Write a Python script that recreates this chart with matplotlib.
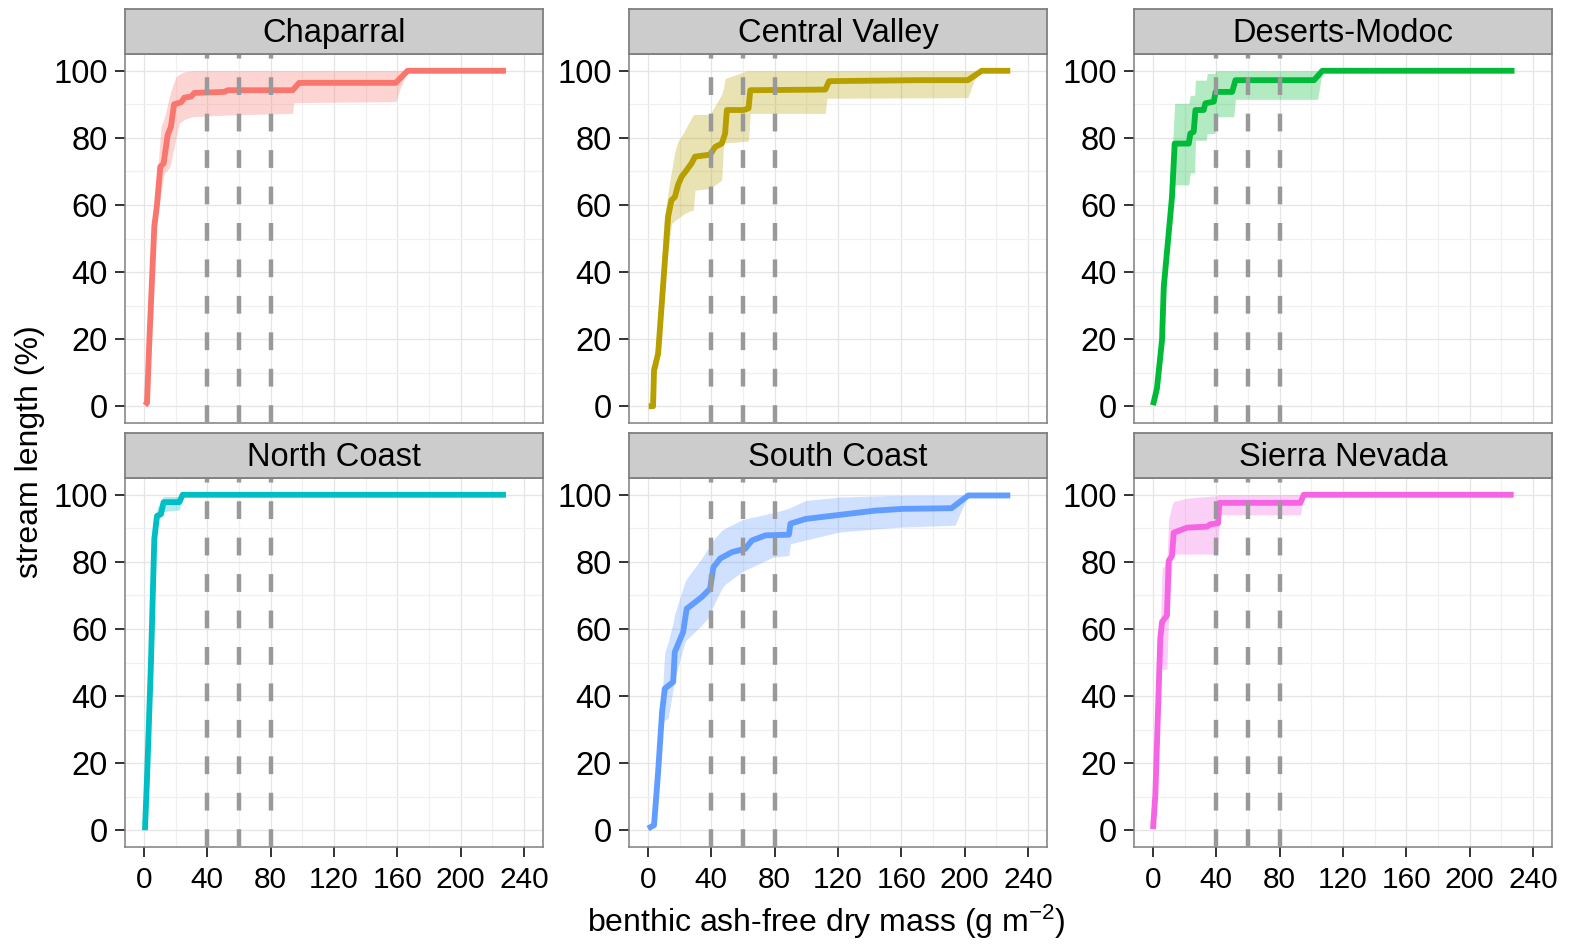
import numpy as np
import matplotlib
matplotlib.use("Agg")
import matplotlib.pyplot as plt

plt.rcParams['font.family'] = ['Liberation Sans', 'DejaVu Sans']
plt.rcParams['mathtext.default'] = 'regular'

# ---- data (x: g m-2, y: % of stream length) ----
regions = ["Chaparral", "Central Valley", "Deserts-Modoc",
           "North Coast", "South Coast", "Sierra Nevada"]
colors = ["#F8766D", "#B79F00", "#00BA38", "#00BFC4", "#619CFF", "#F564E3"]
thresholds = [40, 60, 80]

chap_x = [0.6, 1.9, 3.4, 6.5, 8.2, 10.3, 12.4, 15, 17, 19, 23.4, 25.5, 29.7, 31.8,
          50.7, 52.8, 93.9, 98, 159, 166.5, 228.6]
chap_y = [0.3, 1, 19.7, 53.5, 60, 71.4, 72.4, 81, 83.3, 90, 90.6, 92, 92.3, 93.4,
          93.7, 94.2, 94.2, 96.4, 96.4, 100, 100]
chap_rx = [0.6, 5, 8, 10.7, 12.8, 16, 17, 20.2, 22.3, 25.5, 30.7, 52, 93.9, 94.5,
           159, 162, 166.5, 228.6]
chap_hi = [0.3, 48, 66, 83.3, 86, 92.2, 94, 98.2, 99, 99.7, 100, 100, 100, 100,
           100, 100, 100, 100]
chap_lo = [0.3, 36, 55, 64, 69.4, 71, 72.4, 80, 84.3, 85.5, 86.3, 86.8, 87.3, 90.5,
           90.8, 95, 100, 100]

cv_x = [0.4, 3.2, 3.8, 6.4, 12.7, 14.8, 17, 19, 21.2, 24.4, 27.5, 29.7, 39.2, 42.4,
        46.6, 48.7, 49.8, 60.4, 63.5, 64.6, 112, 114.4, 169.5, 202, 210.8, 228.8]
cv_y = [0, 0, 10.7, 15.7, 56.5, 61.4, 62.4, 66, 68.4, 70.4, 72.4, 74.4, 75, 77.3,
        78.3, 81.3, 88.3, 88.3, 88.8, 94.2, 94.4, 96.9, 97.2, 97.2, 100, 100]
cv_rx = [0.4, 3.8, 6.4, 10, 12.7, 14.8, 17, 19, 23, 27.5, 28.6, 29.7, 39.2, 46.6,
         47.7, 48.7, 62.5, 63.5, 64.6, 112, 113, 202, 206, 210.8, 228.8]
cv_hi = [0, 12, 20, 55, 64, 70, 76, 79, 82, 86, 86.8, 87, 87, 93, 95, 97.7, 100,
         100, 100, 100, 100, 100, 100, 100, 100]
cv_lo = [0, 9, 12, 40, 46, 54.4, 55.4, 56, 57.4, 58.4, 58.4, 64.4, 64.9, 67.4,
         78.3, 78.5, 79, 79.3, 87.3, 87.3, 91.8, 92, 97.2, 100, 100]

dm_x = [0, 2.5, 5.7, 6.8, 9.9, 12, 13.7, 22.6, 23.6, 25.7, 26.8, 32, 33.1, 38.4,
        39.5, 50, 52.1, 101.7, 107, 228.3]
dm_y = [0.3, 5.3, 19.7, 35.6, 51.5, 62.4, 78.3, 78.3, 81.3, 81.8, 88.3, 88.3, 90.3,
        90.8, 93.7, 93.7, 97.2, 97.2, 100, 100]
dm_rx = [0, 5.7, 9.9, 11, 13.7, 22.6, 23.6, 26.3, 26.8, 33.7, 34.2, 39.2, 39.5, 51,
         52.1, 104, 107, 228.3]
dm_hi = [0.3, 21, 55, 66, 90.3, 90.3, 92.7, 92.7, 97.2, 97.2, 99.2, 99.2, 100, 100,
         100, 100, 100, 100]
dm_lo = [0.3, 18, 47, 54, 66, 66, 69.6, 69.6, 79.3, 79.3, 81.3, 81.3, 86.3, 86.3,
         91.5, 91.5, 100, 100]

nc_x = [0.6, 1.9, 4.4, 6.5, 8.2, 10.7, 12.4, 22.3, 24.4, 228.6]
nc_y = [0, 15.4, 50, 86.7, 93.7, 94.2, 97.8, 97.8, 100, 100]
nc_rx = [0.6, 6.5, 8.2, 12.4, 22.3, 24.4, 228.6]
nc_hi = [0, 88.5, 96, 99.5, 99.5, 100, 100]
nc_lo = [0, 85, 92, 95, 95.5, 100, 100]

sc_x = [0, 3.8, 6.4, 8.9, 10.6, 15.9, 16.9, 22.2, 24.4, 33.9, 39.2, 41.3, 45.6, 53,
        61.4, 65.7, 74.2, 89, 90, 99.6, 120.8, 144, 161, 191.7, 202.3, 228.8]
sc_y = [0.5, 1.5, 17.4, 35.3, 42.2, 44.2, 53.1, 59.1, 66, 69.5, 72, 78.4, 81, 82.9,
        83.9, 86.4, 87.9, 88.1, 91.4, 92.8, 94, 95.3, 95.8, 96, 99.8, 99.8]
sc_rx = [0, 3.8, 6.4, 8.9, 10.6, 12.7, 15.9, 16.9, 23.3, 24.4, 33.9, 39.2, 40.3,
         46.6, 48.7, 59.3, 61.4, 78.4, 80.5, 89, 90, 99.6, 120.8, 154.7, 161, 193.9,
         201.3, 202.3, 228.8]
sc_hi = [0.5, 2.5, 20, 40, 53, 56, 62, 64.5, 74, 75, 81, 85, 86, 89.4, 90, 92.5,
         92.8, 94.6, 94.8, 96, 96.2, 98.3, 99.3, 99.8, 99.8, 99.8, 100, 100, 100]
sc_lo = [0.5, 1, 15, 31.5, 32.8, 33.3, 42.2, 45, 56.1, 56.8, 61.1, 64, 66, 72, 73.3,
         77, 77.5, 81.3, 81.5, 81.9, 85.4, 86.5, 88.9, 90.2, 90.4, 90.9, 99, 99.8, 99.8]

sn_x = [0, 1.5, 4.6, 5.7, 8.8, 9.9, 12, 13.1, 21.5, 34.1, 36.2, 41.1, 41.9, 93.1,
        95.2, 227.8]
sn_y = [0.3, 10.7, 57.1, 62.1, 64, 80.3, 81.8, 88.7, 90.2, 90.5, 91.2, 91.5, 97.6,
        97.6, 100, 100]
sn_rx = [0, 1.5, 4.6, 5.7, 8.8, 9.9, 12, 13.1, 21.5, 40, 41.1, 41.9, 93.1, 95.2, 227.8]
sn_hi = [0.3, 11, 60, 77.9, 80, 92.7, 97, 98, 99, 99.7, 100, 100, 100, 100, 100]
sn_lo = [0.3, 10.4, 54, 48, 48, 64, 79.8, 82.3, 82.3, 82.3, 82.3, 94, 94, 100, 100]

panels = [
    (chap_x, chap_y, chap_rx, chap_lo, chap_hi),
    (cv_x, cv_y, cv_rx, cv_lo, cv_hi),
    (dm_x, dm_y, dm_rx, dm_lo, dm_hi),
    (nc_x, nc_y, nc_rx, nc_lo, nc_hi),
    (sc_x, sc_y, sc_rx, sc_lo, sc_hi),
    (sn_x, sn_y, sn_rx, sn_lo, sn_hi),
]

# ---- layout in pixels ----
W, H = 1570, 946
lefts = [125, 629, 1134]
tops = [54, 478]
pw, ph = 418, 369
strip_h = 45

fig = plt.figure(figsize=(W / 100, H / 100), dpi=100)
fig.patch.set_facecolor("white")

for i, name in enumerate(regions):
    r, c = divmod(i, 3)
    L, T = lefts[c], tops[r]
    ax = fig.add_axes([L / W, 1 - (T + ph) / H, pw / W, ph / H])
    x, y, rx, lo, hi = panels[i]

    ax.fill_between(rx, lo, hi, color=colors[i], alpha=0.3, linewidth=0, zorder=2)
    ax.plot(x, y, color=colors[i], lw=4.2, solid_joinstyle="round",
            solid_capstyle="butt", zorder=3)
    for t in thresholds:
        ax.axvline(t, color="#999999", lw=3.2, dashes=(4.0, 4.2), zorder=4)

    ax.set_xlim(-12, 252)
    ax.set_ylim(-5, 105)
    ax.set_xticks(np.arange(0, 241, 40))
    ax.set_xticks(np.arange(20, 241, 40), minor=True)
    ax.set_yticks(np.arange(0, 101, 20))
    ax.set_yticks(np.arange(10, 101, 20), minor=True)
    ax.grid(which="major", color="#E5E5E5", lw=0.9, zorder=0)
    ax.grid(which="minor", color="#F0F0F0", lw=0.9, zorder=0)
    ax.set_axisbelow(True)
    for s in ax.spines.values():
        s.set_color("#7F7F7F")
        s.set_linewidth(1.1)
    ax.tick_params(axis="y", which="major", length=7.5, width=1.4, color="#333333",
                   labelsize=23.5, pad=5)
    ax.tick_params(which="minor", length=0)
    if r == 1:
        ax.tick_params(axis="x", which="major", length=7.5, width=1.4,
                       color="#333333", labelsize=21.5, pad=6)
    else:
        ax.tick_params(axis="x", which="major", length=0, labelbottom=False)

    sax = fig.add_axes([L / W, 1 - T / H, pw / W, strip_h / H])
    sax.set_facecolor("#CCCCCC")
    sax.set_xticks([])
    sax.set_yticks([])
    for s in sax.spines.values():
        s.set_color("#7F7F7F")
        s.set_linewidth(1.3)
    sax.text(0.5, 0.45, name, ha="center", va="center", fontsize=23.5,
             transform=sax.transAxes)

fig.text(826 / W, 1 - 922 / H, r"benthic ash-free dry mass (g m$^{-2}$)",
         ha="center", va="center", fontsize=23)
fig.text(30 / W, 1 - 452 / H, "stream length (%)", rotation=90,
         ha="center", va="center", fontsize=23)

fig.savefig("out.png", dpi=100)
